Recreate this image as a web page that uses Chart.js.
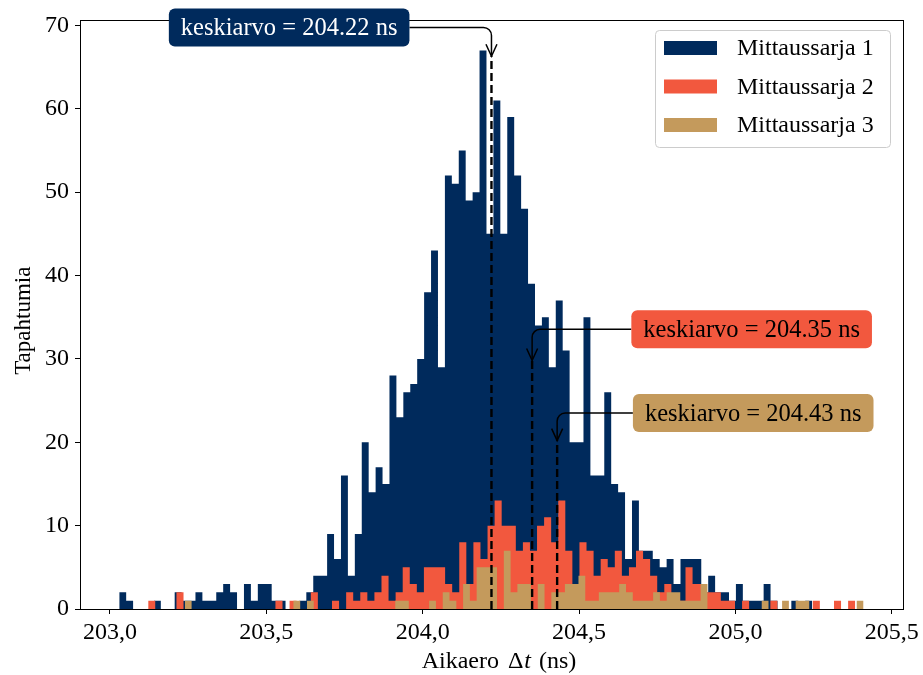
<!DOCTYPE html>
<html>
<head>
<meta charset="utf-8">
<script src="https://cdn.jsdelivr.net/npm/chart.js@4.4.1/dist/chart.umd.min.js"></script>
<style>
  html, body { margin: 0; padding: 0; background: #ffffff; }
  #wrap { width: 923px; height: 675px; position: relative; }
</style>
</head>
<body>
<div id="wrap"><canvas id="chart"></canvas></div>
<script>
// ---- measured data -------------------------------------------------------
const seriesNames  = ['Mittaussarja 1', 'Mittaussarja 2', 'Mittaussarja 3'];
const seriesColors = ['#002a5c', '#f2583e', '#c49a5c'];

// histogram range [first edge, last edge] in ns; each series has 100 equal bins
const range1 = [203.0297, 205.2454];
const range2 = [203.1222, 205.3831];
const range3 = [203.2394, 205.4098];

const counts1 = [
  2, 1, 0, 0, 0, 1, 0, 0, 2, 1,
  1, 2, 1, 1, 2, 3, 2, 0, 3, 1,
  3, 3, 1, 1, 0, 0, 1, 2, 4, 4,
  9, 6, 16, 4, 9, 20, 14, 17, 15, 28,
  23, 26, 27, 30, 38, 43, 29, 52, 51, 55,
  49, 50, 67, 45, 61, 45, 59, 52, 48, 39,
  34, 35, 29, 37, 31, 20, 20, 35, 16, 16,
  26, 15, 14, 6, 13, 7, 7, 6, 5, 6,
  3, 6, 6, 6, 2, 4, 2, 2, 1, 3,
  1, 1, 1, 3, 1, 0, 0, 1, 0, 1
];
const counts2 = [
  1, 0, 0, 0, 2, 0, 0, 0, 0, 0,
  0, 0, 0, 0, 0, 0, 0, 0, 1, 0,
  1, 0, 0, 2, 0, 0, 1, 0, 2, 1,
  2, 1, 2, 4, 1, 2, 5, 3, 2, 5,
  5, 5, 3, 2, 8, 3, 8, 6, 10, 13,
  10, 10, 7, 8, 7, 10, 11, 8, 13, 7,
  3, 8, 7, 4, 6, 5, 7, 4, 5, 7,
  6, 4, 2, 3, 1, 1, 5, 3, 3, 2,
  2, 1, 1, 0, 1, 0, 0, 0, 1, 0,
  0, 0, 0, 0, 1, 0, 0, 1, 0, 1
];
const counts3 = [
  1, 0, 0, 0, 0, 0, 0, 0, 0, 0,
  0, 0, 0, 0, 0, 0, 1, 0, 1, 0,
  0, 0, 0, 0, 0, 0, 0, 0, 0, 0,
  0, 1, 1, 0, 0, 0, 1, 0, 2, 1,
  0, 3, 1, 5, 5, 5, 0, 7, 2, 3,
  3, 0, 3, 0, 2, 2, 3, 3, 4, 1,
  1, 2, 2, 2, 3, 2, 1, 1, 1, 2,
  1, 2, 2, 1, 1, 1, 3, 0, 0, 0,
  0, 0, 0, 0, 0, 1, 0, 0, 1, 0,
  1, 1, 0, 0, 0, 0, 0, 0, 0, 1
];

// mean of each series (ns) and the count level where its marker ends
const means = [204.22, 204.35, 204.43];
const meanMarkerTops = [66.3, 29.8, 20.2];

const xTicks = [203.0, 203.5, 204.0, 204.5, 205.0, 205.5];
const yTicks = [0, 10, 20, 30, 40, 50, 60, 70];

// ---- presentation ----------------------------------------------------------
const FONT = '"Liberation Serif", "Times New Roman", serif';
const FONT_SIZE = 24;
const LABEL_SIZE = 24.5;

// label placement for the mean annotations, in data coordinates
const meanLabelAnchors = [
  { x: 203.573, y: 69.76, fill: seriesColors[0], text: '#ffffff' },
  { x: 205.052, y: 33.55, fill: seriesColors[1], text: '#000000' },
  { x: 205.057, y: 23.50, fill: seriesColors[2], text: '#000000' }
];

// turn bin range + counts into a closed step outline
function histogramOutline(range, counts) {
  const n = counts.length;
  const w = (range[1] - range[0]) / n;
  const pts = [{ x: range[0], y: 0 }];
  for (let i = 0; i < n; i++) pts.push({ x: range[0] + i * w, y: counts[i] });
  pts.push({ x: range[1], y: 0 });
  return pts;
}

const ranges = [range1, range2, range3];
const countSets = [counts1, counts2, counts3];

const datasets = countSets.map((c, i) => ({
  label: seriesNames[i],
  data: histogramOutline(ranges[i], c),
  stepped: 'before',
  fill: 'origin',
  backgroundColor: seriesColors[i],
  borderColor: 'rgba(0,0,0,0)',
  borderWidth: 0,
  pointRadius: 0,
  pointHoverRadius: 0,
  tension: 0,
  order: 3 - i
}));

function roundRect(ctx, x, y, w, h, r) {
  ctx.beginPath();
  ctx.moveTo(x + r, y);
  ctx.lineTo(x + w - r, y);
  ctx.arcTo(x + w, y, x + w, y + r, r);
  ctx.lineTo(x + w, y + h - r);
  ctx.arcTo(x + w, y + h, x + w - r, y + h, r);
  ctx.lineTo(x + r, y + h);
  ctx.arcTo(x, y + h, x, y + h - r, r);
  ctx.lineTo(x, y + r);
  ctx.arcTo(x, y, x + r, y, r);
  ctx.closePath();
}

// frame on top and right, mean lines
const framePlugin = {
  id: 'frameAndMeans',
  afterDatasetsDraw(chart) {
    const { ctx, chartArea: a, scales } = chart;
    ctx.save();
    ctx.strokeStyle = '#000';
    ctx.lineWidth = 2.4;
    ctx.setLineDash([8, 4]);
    means.forEach((m, i) => {
      const x = scales.x.getPixelForValue(m);
      ctx.beginPath();
      ctx.moveTo(x, scales.y.getPixelForValue(0));
      ctx.lineTo(x, scales.y.getPixelForValue(meanMarkerTops[i]));
      ctx.stroke();
    });
    ctx.setLineDash([]);
    ctx.lineWidth = 1;
    ctx.strokeRect(Math.round(a.left) + 0.5, Math.round(a.top) + 0.5,
                   Math.round(a.right - a.left), Math.round(a.bottom - a.top));
    ctx.restore();
  }
};

// axis titles, legend and mean annotations
const overlayPlugin = {
  id: 'overlay',
  afterDraw(chart) {
    const { ctx, chartArea: a, scales } = chart;
    ctx.save();
    ctx.fillStyle = '#000';
    ctx.textBaseline = 'alphabetic';

    // y title
    ctx.save();
    ctx.translate(30, (a.top + a.bottom) / 2 + 6);
    ctx.rotate(-Math.PI / 2);
    ctx.font = `${FONT_SIZE - 1}px ${FONT}`;
    ctx.textAlign = 'center';
    ctx.fillText('Tapahtumia', 0, 0);
    ctx.restore();

    // x title with italic t (math-style spacing around the symbol)
    const parts = [
      { t: 'Aikaero', f: `${FONT_SIZE}px ${FONT}`, gap: 9 },
      { t: 'Δ', f: `${FONT_SIZE}px ${FONT}`, gap: 1 },
      { t: 't', f: `italic ${FONT_SIZE}px ${FONT}`, gap: 8 },
      { t: '(ns)', f: `${FONT_SIZE}px ${FONT}`, gap: 0 }
    ];
    let total = 0;
    parts.forEach(p => { ctx.font = p.f; p.w = ctx.measureText(p.t).width; total += p.w + p.gap; });
    let x = 499 - total / 2;
    ctx.textAlign = 'left';
    parts.forEach(p => { ctx.font = p.f; ctx.fillText(p.t, x, 668); x += p.w + p.gap; });

    // legend
    const lx = 655, ly = 30, lw = 235, lh = 117;
    roundRect(ctx, lx + 0.5, ly + 0.5, lw, lh, 4);
    ctx.fillStyle = 'rgba(255,255,255,0.8)';
    ctx.fill();
    ctx.strokeStyle = '#cccccc';
    ctx.lineWidth = 1;
    ctx.stroke();
    ctx.font = `${FONT_SIZE}px ${FONT}`;
    ctx.textBaseline = 'middle';
    chart.data.datasets.forEach((ds, i) => {
      const cy = 48 + i * 38.5;
      ctx.fillStyle = ds.backgroundColor;
      ctx.fillRect(664, cy - 7, 53, 14);
      ctx.fillStyle = '#000';
      ctx.fillText(ds.label, 737, cy + 1);
    });

    // mean annotations: rounded label box with an elbow arrow to the marker
    means.forEach((m, i) => {
      const lab = meanLabelAnchors[i];
      const text = `keskiarvo = ${m.toFixed(2)} ns`;
      ctx.font = `${LABEL_SIZE}px ${FONT}`;
      const tw = ctx.measureText(text).width;
      const bw = tw + 24, bh = 38;
      const cx = scales.x.getPixelForValue(lab.x);
      const cy = scales.y.getPixelForValue(lab.y);
      const mx = scales.x.getPixelForValue(m);
      const tipY = scales.y.getPixelForValue(meanMarkerTops[i]);
      const r = 8;

      ctx.strokeStyle = '#000';
      ctx.lineWidth = 1.5;
      ctx.beginPath();
      if (mx > cx) {
        ctx.moveTo(cx + bw / 2, cy);
        ctx.lineTo(mx - r, cy);
      } else {
        ctx.moveTo(cx - bw / 2, cy);
        ctx.lineTo(mx + r, cy);
      }
      ctx.arcTo(mx, cy, mx, cy + r, r);
      ctx.lineTo(mx, tipY);
      ctx.stroke();
      ctx.beginPath();
      ctx.moveTo(mx - 5.5, tipY - 12);
      ctx.lineTo(mx, tipY);
      ctx.lineTo(mx + 5.5, tipY - 12);
      ctx.stroke();

      roundRect(ctx, cx - bw / 2, cy - bh / 2, bw, bh, 6);
      ctx.fillStyle = lab.fill;
      ctx.fill();
      ctx.fillStyle = lab.text;
      ctx.textAlign = 'center';
      ctx.textBaseline = 'middle';
      ctx.fillText(text, cx, cy + 1);
    });
    ctx.restore();
  }
};

const tickFont = { family: FONT, size: FONT_SIZE };

new Chart(document.getElementById('chart'), {
  type: 'line',
  data: { datasets },
  options: {
    responsive: true,
    maintainAspectRatio: false,
    devicePixelRatio: 1,
    animation: false,
    events: [],
    layout: { padding: { top: 20, right: 18, left: 0, bottom: 0 } },
    plugins: {
      legend: { display: false },
      tooltip: { enabled: false },
      filler: { propagate: false }
    },
    scales: {
      x: {
        type: 'linear',
        min: 202.9042,
        max: 205.5372,
        afterBuildTicks: s => { s.ticks = xTicks.map(v => ({ value: v })); },
        afterFit: s => { s.height = 66; },
        ticks: {
          font: tickFont, color: '#000', padding: 4, maxRotation: 0,
          callback: v => v.toFixed(1).replace('.', ',')
        },
        grid: { display: true, drawOnChartArea: false, drawTicks: true, tickLength: 5, tickColor: '#000' },
        border: { display: true, color: '#000', width: 1 }
      },
      y: {
        type: 'linear',
        min: 0,
        max: 70.6,
        afterBuildTicks: s => { s.ticks = yTicks.map(v => ({ value: v })); },
        afterFit: s => { s.width = 80; },
        ticks: { font: tickFont, color: '#000', padding: 6, callback: v => String(v) },
        grid: { display: true, drawOnChartArea: false, drawTicks: true, tickLength: 5, tickColor: '#000' },
        border: { display: true, color: '#000', width: 1 }
      }
    }
  },
  plugins: [framePlugin, overlayPlugin]
});
</script>
</body>
</html>
